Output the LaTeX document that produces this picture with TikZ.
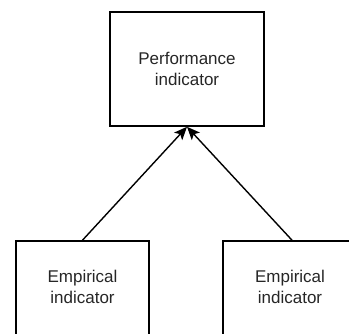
\documentclass[tikz,border=0pt]{standalone}
\usepackage{fontspec}
\setmainfont{Liberation Sans}
\usetikzlibrary{arrows.meta}
\begin{document}
\begin{tikzpicture}[x=1pt,y=-1pt,
  box/.style={draw=black,line width=1.6pt,rectangle,inner sep=0pt},
  lbl/.style={font=\fontsize{17}{21}\selectfont,align=center,text=black!85},
  link/.style={line width=1.4pt,-{Stealth[length=13pt,width=11pt,inset=3pt]}}]
\useasboundingbox (0,0) rectangle (349,334);
\begin{scope}
\clip (0,0) rectangle (349,334);
% target box
\node[box,minimum width=154pt,minimum height=114pt] (perf) at (187,69) {};
\node[lbl] (perft) at (187,69) {Performance\\indicator};
% source boxes, running past the lower and right edges
\node[box,minimum width=133pt,minimum height=130pt] (emp1) at (82.5,306) {};
\node[lbl] (emp1t) at (82.5,287) {Empirical\\indicator};
\node[box,minimum width=134pt,minimum height=130pt] (emp2) at (290,306) {};
\node[lbl] (emp2t) at (290,287) {Empirical\\indicator};
\end{scope}
\draw[link] (emp1.north) -- (perf.south);
\draw[link] ([xshift=2pt]emp2.north) -- (perf.south);
\end{tikzpicture}
\end{document}
